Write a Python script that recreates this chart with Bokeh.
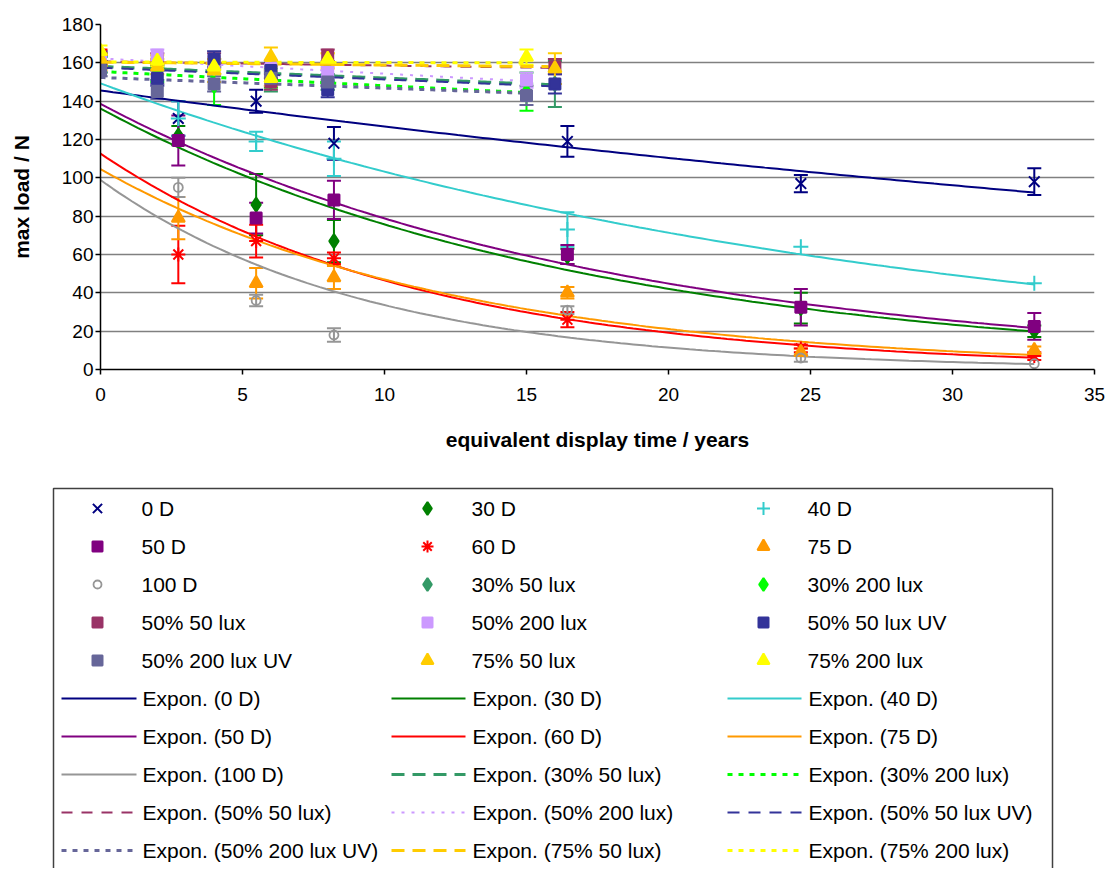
import numpy as np
from bokeh.plotting import figure
from bokeh.models import Range1d, FixedTicker, Whisker, TeeHead, ColumnDataSource
from bokeh.core.properties import value
from bokeh.embed import file_html
from bokeh.resources import INLINE

# ---------------- data ----------------
x_d = [0, 2.74, 5.48, 8.22, 16.44, 24.66, 32.88]
load_0D = [162, 131, 140, 118, 119, 97, 98]
err_0D = [3, 9, 6, 8.5, 8, 4.5, 7]
load_30D = [162, 122, 86, 67, 59, 32, 20]
err_30D = [3, 5, 16, 11, 4, 8, 3]
load_40D = [163, 131, 119, 110, 73, 64, 45]
err_40D = [3, 9, 5, 9, 9, 0, 0]
load_50D = [163, 119.5, 79, 88.5, 60, 32.5, 22.5]
err_50D = [3, 13, 8, 10, 5, 9.5, 7]
load_60D = [164, 60, 67, 58, 26, 11, 7]
err_60D = [3, 15, 8.5, 3, 4, 2, 2]
load_75D = [160, 79, 45, 48, 40, 9, 10]
err_75D = [4, 11, 8, 6, 3, 2, 2]
load_100D = [156, 95, 36, 18, 31, 6, 3]
err_100D = [3, 5, 3, 3.5, 2, 2, 0]

x_200 = [0, 2, 4, 6, 8, 15]
x_50 = [0, 2, 4, 6, 8, 16]
load_30_50 = [160, 155, 158, 150, 155, 149]
err_30_50 = [3, 4, 4, 5, 4, 12]
load_30_200 = [158, 154, 148, 152, 150, 145]
err_30_200 = [3, 4, 10, 5, 4, 10]
load_50_50 = [162, 162, 161, 150, 164, 158]
err_50_50 = [3, 3, 4, 4, 3, 4]
load_50_200 = [161, 164, 158, 157, 155, 151]
err_50_200 = [3, 3, 4, 4, 3, 4]
load_50_50UV = [158, 152, 162, 156, 146, 149]
err_50_50UV = [3, 4, 4, 4, 4, 5]
load_50_200UV = [156, 145, 149, 152, 150, 143]
err_50_200UV = [3, 4, 4, 4, 4, 5]
load_75_50 = [162, 158, 156, 163, 161, 157]
err_75_50 = [3, 4, 6, 5, 4, 8]
load_75_200 = [166, 161, 158, 152, 162, 163]
err_75_200 = [3, 3, 4, 4, 3, 4]

y_ticks = [0, 20, 40, 60, 80, 100, 120, 140, 160, 180]
x_ticks = [0, 5, 10, 15, 20, 25, 30, 35]

series = [
    # name, x, y, err, marker, color, size, fill, trend width, dash
    ("0 D", x_d, load_0D, err_0D, "x", "#000080", 15, True, 2, "solid"),
    ("30 D", x_d, load_30D, err_30D, "diamond", "#008000", 14, True, 2, "solid"),
    ("40 D", x_d, load_40D, err_40D, "cross", "#33CCCC", 15, True, 2, "solid"),
    ("50 D", x_d, load_50D, err_50D, "square", "#800080", 11, True, 2, "solid"),
    ("60 D", x_d, load_60D, err_60D, "asterisk", "#FF0000", 14, True, 2, "solid"),
    ("75 D", x_d, load_75D, err_75D, "triangle", "#FF9900", 13, True, 2, "solid"),
    ("100 D", x_d, load_100D, err_100D, "circle", "#969696", 9, False, 2, "solid"),
    ("30% 50 lux", x_50, load_30_50, err_30_50, "diamond", "#339966", 14, True, 3, "13 8"),
    ("30% 200 lux", x_200, load_30_200, err_30_200, "diamond", "#00FF00", 14, True, 3, "5 6"),
    ("50% 50 lux", x_50, load_50_50, err_50_50, "square", "#993366", 11, True, 2, "11 9"),
    ("50% 200 lux", x_200, load_50_200, err_50_200, "square", "#CC99FF", 11, True, 2, "3 7"),
    ("50% 50 lux UV", x_50, load_50_50UV, err_50_50UV, "square", "#333399", 11, True, 2, "12 9"),
    ("50% 200 lux UV", x_200, load_50_200UV, err_50_200UV, "square", "#666699", 11, True, 3, "5 6"),
    ("75% 50 lux", x_50, load_75_50, err_75_50, "triangle", "#FFCC00", 13, True, 3, "13 8"),
    ("75% 200 lux", x_200, load_75_200, err_75_200, "triangle", "#FFFF00", 13, True, 3, "5 6"),
]

FONT = "Liberation Sans"

# ---------------- main chart ----------------
p = figure(width=1115, height=470, x_range=Range1d(0, 35), y_range=Range1d(0, 180),
           output_backend="svg", toolbar_location=None,
           min_border_left=100, min_border_right=21, min_border_top=24, min_border_bottom=101)
p.outline_line_color = None
p.background_fill_color = "white"
p.xgrid.grid_line_color = None
p.ygrid.grid_line_color = "#808080"
p.ygrid.grid_line_width = 1.5
p.yaxis.ticker = FixedTicker(ticks=y_ticks)
p.xaxis.ticker = FixedTicker(ticks=x_ticks)
for ax in (p.xaxis, p.yaxis):
    ax.axis_line_color = "black"
    ax.axis_line_width = 1.5
    ax.major_tick_line_color = "black"
    ax.major_tick_line_width = 1.5
    ax.major_tick_out = 5
    ax.major_tick_in = 0
    ax.minor_tick_line_color = None
    ax.major_label_text_font = FONT
    ax.major_label_text_font_size = "19px"
    ax.major_label_text_color = "black"
    ax.axis_label_text_font = FONT
    ax.axis_label_text_font_style = "bold"
    ax.axis_label_text_font_size = "21px"
    ax.axis_label_text_color = "black"
p.xaxis.axis_label = "equivalent display time / years"
p.yaxis.axis_label = "max load / N"
p.xaxis.major_label_standoff = 13
p.xaxis.axis_label_standoff = 24
p.yaxis.major_label_standoff = 2
p.yaxis.axis_label_standoff = 26


def expfit(x, y):
    b, lna = np.polyfit(np.asarray(x, float), np.log(np.asarray(y, float)), 1)
    xs = np.linspace(min(x), max(x), 150)
    return xs, np.exp(lna + b * xs)

# trendlines
for name, xs, ys, es, mk, col, sz, fill, tw, dash in series:
    tx, ty = expfit(xs, ys)
    p.line(tx, ty, line_color=col, line_width=tw, line_dash=dash)

# error bars + markers
for name, xs, ys, es, mk, col, sz, fill, tw, dash in series:
    xe = [a for a, e in zip(xs, es) if e > 0]
    lo = [b - e for b, e in zip(ys, es) if e > 0]
    hi = [b + e for b, e in zip(ys, es) if e > 0]
    src = ColumnDataSource(dict(x=xe, lo=lo, hi=hi))
    w = Whisker(source=src, base="x", lower="lo", upper="hi", line_color=col, line_width=2,
                lower_head=TeeHead(size=14, line_color=col, line_width=2),
                upper_head=TeeHead(size=14, line_color=col, line_width=2))
    p.add_layout(w)
    if fill:
        p.scatter(xs, ys, marker=mk, size=sz, line_color=col, fill_color=col, line_width=2)
    else:
        p.scatter(xs, ys, marker=mk, size=sz, line_color=col, fill_color=None, line_width=1.8)

# ---------------- legend ----------------
LH = 398
leg = figure(width=1115, height=LH, x_range=Range1d(0, 1115), y_range=Range1d(LH, 0),
             output_backend="svg", toolbar_location=None, x_axis_type=None, y_axis_type=None,
             min_border_left=0, min_border_right=0, min_border_top=0, min_border_bottom=0)
leg.outline_line_color = None
leg.xgrid.visible = False
leg.ygrid.visible = False
leg.quad(left=[53], right=[1052], top=[18], bottom=[430], fill_color=None,
         line_color="#404040", line_width=1.5)

row_y = lambda i: 38 + 38 * i
mark_x = [97, 427, 763]
text_x = [141, 471, 807]
line_x0 = [61, 391, 727]
line_x1 = [136, 465, 801]

for k, (name, xs, ys, es, mk, col, sz, fill, tw, dash) in enumerate(series):
    r, c = divmod(k, 3)
    yy = row_y(r)
    msz = sz - 2 if mk in ("x", "cross", "asterisk") else sz - 1
    if fill:
        leg.scatter([mark_x[c]], [yy], marker=mk, size=msz, line_color=col, fill_color=col, line_width=2)
    else:
        leg.scatter([mark_x[c]], [yy], marker=mk, size=msz, line_color=col, fill_color=None, line_width=1.8)
    leg.text([text_x[c]], [yy], text=[name], text_font=value(FONT), text_font_size="21px",
             text_baseline="middle", text_color="black")

for k, (name, xs, ys, es, mk, col, sz, fill, tw, dash) in enumerate(series):
    r, c = divmod(k + 15, 3)
    yy = row_y(r)
    leg.line([line_x0[c], line_x1[c]], [yy, yy], line_color=col, line_width=tw, line_dash=dash)
    leg.text([text_x[c] + 1], [yy], text=["Expon. (" + name + ")"], text_font=value(FONT),
             text_font_size="21px", text_baseline="middle", text_color="black")

open("out.html", "w").write(file_html([p, leg], INLINE))
